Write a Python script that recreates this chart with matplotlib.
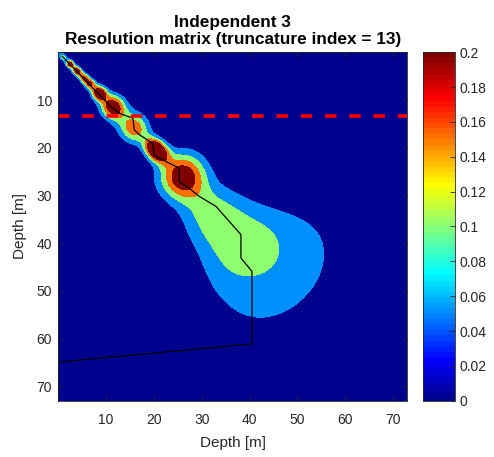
import numpy as np
import matplotlib.pyplot as plt
from matplotlib.colors import ListedColormap, Normalize
from matplotlib.cm import ScalarMappable

plt.rcParams['font.family'] = ['Liberation Sans', 'DejaVu Sans']

# model depth grid [m]
depth = np.arange(0, 73.01, 0.25)

# resolution kernels: centre (x, y), peak value, spread along / across the diagonal [m]
blob_x = [1.0, 2.5, 3.9, 5.3, 6.6, 8.6, 11.4, 13.8, 16.0, 20.5, 26.0,
          28.1, 30.1, 32.1, 34.1, 36.1, 38.1, 40.4, 42.7, 45.0, 47.0, 49.0, 51.0, 53.0, 55.0]
blob_y = [1.0, 2.5, 3.9, 5.3, 6.6, 8.6, 11.4, 13.8, 16.0, 20.5, 26.0,
          29.9, 31.9, 33.9, 35.9, 37.9, 39.9, 41.6, 43.3, 45.0, 47.0, 49.0, 51.0, 53.0, 55.0]
blob_peak = [0.12, 0.24, 0.24, 0.18, 0.20, 0.28, 0.25, 0.05, 0.17, 0.33, 0.245,
             0.02, 0.05, 0.058, 0.058, 0.058, 0.058, 0.058, 0.044, 0.038, 0.034, 0.029,
             0.022, 0.013, 0.005]
blob_along = [0.8, 0.6, 0.7, 0.8, 0.9, 1.1, 1.8, 2.0, 2.0, 2.0, 3.3,
              2.83, 2.83, 2.83, 2.83, 2.83, 2.83, 2.83, 2.83, 2.83, 2.83, 2.83, 2.83, 2.83, 2.83]
blob_across = [0.45, 0.5, 0.55, 0.6, 0.7, 0.95, 1.6, 2.0, 2.0, 1.3, 3.3,
               3.5, 4.0, 4.6, 5.0, 5.8, 6.8, 7.8, 9.5, 10.8, 11.2, 11.2, 11.0, 10.0, 9.0]

# truncation depth and path of the kernel maxima
trunc_depth = 13.4
path_x = [0.8, 11.0, 12.8, 15.6, 15.9, 17.0, 18.7, 19.7, 20.1, 21.2, 25.3, 25.3, 27.4,
          29.5, 33.0, 38.2, 38.2, 40.5, 40.5, 0.0, 0.0]
path_y = [0.8, 11.4, 12.8, 13.8, 16.3, 17.3, 18.4, 19.1, 21.5, 22.2, 24.3, 27.1, 28.5,
          30.2, 32.3, 38.2, 43.1, 45.9, 61.1, 64.9, 73.0]

levels = [-1, 0.05, 0.1, 0.15, 0.2, 10]
cbar_ticks = np.arange(0, 0.2001, 0.02)


def matlab_jet(m=64):
    n = int(np.ceil(m / 4))
    u = np.concatenate([np.arange(1, n + 1) / n, np.ones(n - 1), np.arange(n, 0, -1) / n])
    g = int(np.ceil(n / 2)) - int(m % 4 == 1) + np.arange(1, len(u) + 1)
    r = g + n
    b = g - n
    J = np.zeros((m, 3))
    J[r[r <= m] - 1, 0] = u[r <= m]
    J[g[g <= m] - 1, 1] = u[g <= m]
    J[b[b >= 1] - 1, 2] = u[b >= 1]
    return J


X, Y = np.meshgrid(depth, depth)
R = np.zeros_like(X)
for cx, cy, a, su, sv in zip(blob_x, blob_y, blob_peak, blob_along, blob_across):
    du = ((X - cx) + (Y - cy)) / np.sqrt(2)
    dv = ((X - cx) - (Y - cy)) / np.sqrt(2)
    R += a * np.exp(-du**2 / (2 * su**2) - dv**2 / (2 * sv**2))

jet = matlab_jet(64)
# each band takes the colour of its lower level, clipped to [0, 0.2]
fill_idx = [0, 16, 32, 48, 63]
fill_colors = [jet[i] for i in fill_idx]

fig = plt.figure(figsize=(4.94, 4.57), dpi=100)
ax = fig.add_axes([0.118, 0.1232, 0.7065, 0.7624])
ax.contourf(X, Y, R, levels=levels, colors=fill_colors)
ax.plot(path_x, path_y, color='k', lw=0.9)
ax.axhline(trunc_depth, color='r', lw=2.6, ls=(0, (3.18, 3.54)))

ax.set_xlim(0, 73)
ax.set_ylim(73, 0)
ax.set_xticks(range(10, 80, 10))
ax.set_yticks(range(10, 80, 10))
ax.tick_params(direction='in', length=3.5, width=0.6, top=True, right=True,
               labelsize=10, colors='#262626')
ax.tick_params(axis='y', pad=4.5)
ax.tick_params(axis='x', pad=9)
for s in ax.spines.values():
    s.set_color('#262626')
    s.set_linewidth(0.6)
ax.set_xlabel('Depth [m]', fontsize=11, color='#262626', labelpad=6)
ax.set_ylabel('Depth [m]', fontsize=11, color='#262626', labelpad=7)
ax.set_title('Independent 3\nResolution matrix (truncature index = 13)',
             fontsize=12.4, fontweight='bold', pad=6)

cax = fig.add_axes([0.8557, 0.1232, 0.0654, 0.7624])
sm = ScalarMappable(norm=Normalize(0, 0.2), cmap=ListedColormap(jet))
cb = fig.colorbar(sm, cax=cax, ticks=cbar_ticks)
cb.ax.set_yticklabels([f'{t:g}' for t in cbar_ticks])
cb.ax.tick_params(direction='in', length=3.5, width=0.6, labelsize=10, colors='#262626')
cb.outline.set_edgecolor('#262626')
cb.outline.set_linewidth(0.6)

fig.savefig('out.png', dpi=100)
